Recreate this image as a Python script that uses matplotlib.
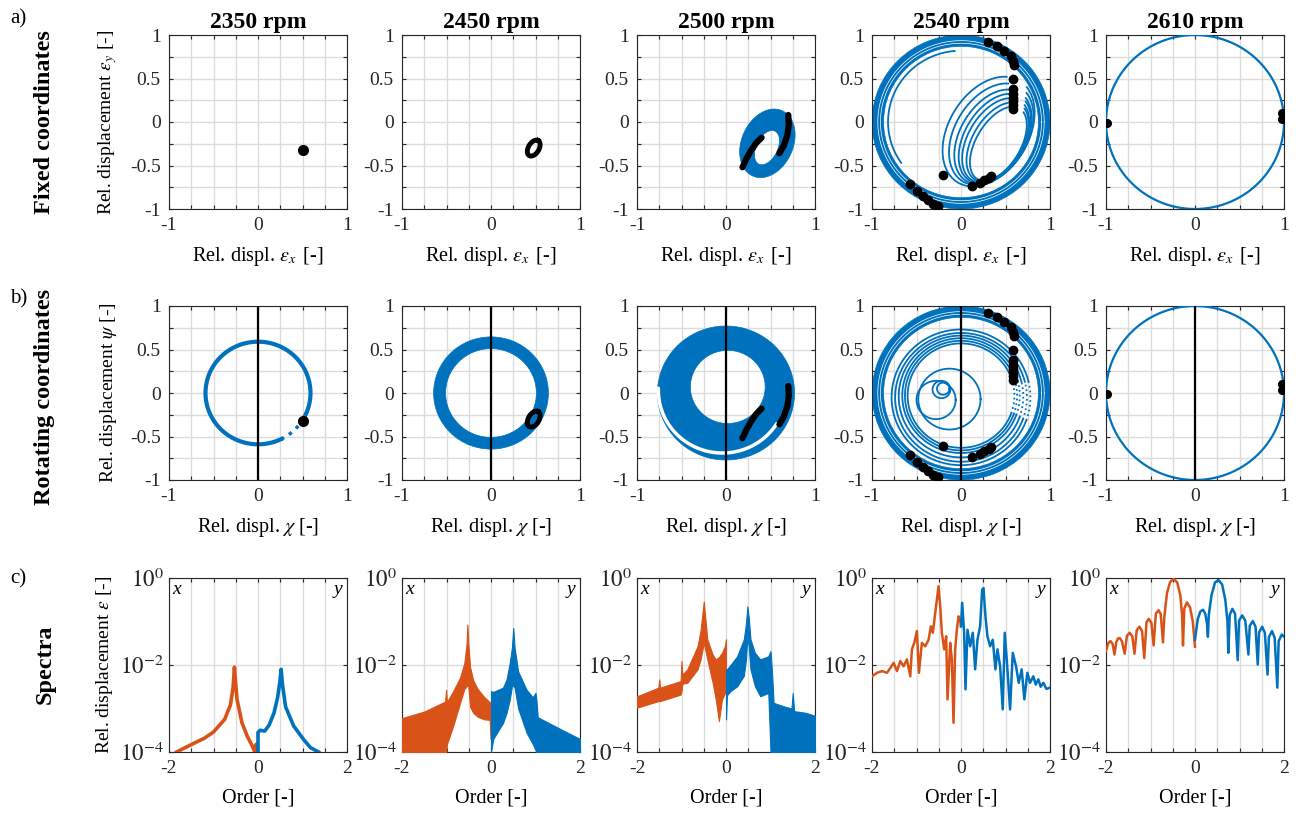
import numpy as np
import matplotlib
matplotlib.use("Agg")
import matplotlib.pyplot as plt
from matplotlib.patches import PathPatch, Wedge
from matplotlib.path import Path

plt.rcParams['font.family'] = ['Liberation Serif', 'DejaVu Serif']
plt.rcParams['mathtext.fontset'] = 'stix'
plt.rcParams['axes.edgecolor'] = '#262626'
plt.rcParams['xtick.color'] = '#262626'
plt.rcParams['ytick.color'] = '#262626'
plt.rcParams['xtick.direction'] = 'in'
plt.rcParams['ytick.direction'] = 'in'

BLUE = '#0072BD'
ORANGE = '#D95319'

rpm = [2350, 2450, 2500, 2540, 2610]

# ---- orbit data ----
# stroboscopic (once per revolution) black points
dots_2350 = [(0.50, -0.32)]
dots_2540 = [(0.30, 0.92), (0.41, 0.87), (0.48, 0.82), (0.56, 0.76), (0.58, 0.70),
             (0.60, 0.66), (0.58, 0.49), (0.58, 0.38), (0.58, 0.32), (0.58, 0.28),
             (0.58, 0.24), (0.58, 0.19), (0.58, 0.15), (-0.20, -0.61), (0.12, -0.73),
             (0.21, -0.70), (0.26, -0.67), (0.31, -0.64), (0.34, -0.62), (-0.57, -0.71),
             (-0.50, -0.79), (-0.43, -0.85), (-0.37, -0.90), (-0.31, -0.94), (-0.26, -0.96)]
dots_2610 = [(-0.99, -0.01), (0.98, 0.10), (0.98, 0.03)]

# black trails at 2450 (small ellipse) and 2500 (two arcs)
ring_2450 = (0.48, -0.30, 0.10, 0.06, 60)
arc1_2500 = [(0.185, -0.52), (0.23, -0.42), (0.28, -0.33), (0.34, -0.24), (0.40, -0.18)]
arc2_2500 = [(0.70, 0.08), (0.705, -0.03), (0.69, -0.15), (0.65, -0.27), (0.60, -0.36)]

# ellipses: (cx, cy, semi-axis a, semi-axis b, tilt deg)
fix_2500_outer = (0.465, -0.245, 0.41, 0.29, 67)
fix_2500_inner = (0.46, -0.295, 0.21, 0.12, 65)
band_2540 = (0.0, 0.0, 0.87, 1.0)          # cx, cy, r_in, r_out
# nested arcs: cx, cy, a, b (tilt 60 deg), drawn from the top point round to the right side
fix_2540_nest = [(0.42, -0.25, 0.47, 0.25), (0.41, -0.23, 0.50, 0.28),
                 (0.39, -0.21, 0.53, 0.31), (0.38, -0.19, 0.56, 0.34),
                 (0.36, -0.17, 0.59, 0.37), (0.34, -0.14, 0.63, 0.41),
                 (0.31, -0.11, 0.68, 0.45)]
fix_2540_arc = (0.0, 0.0, 0.82, 95, 215)   # cx, cy, r, angle from, angle to

rot_2350_r = 0.59
rot_2450_band = (0.0, 0.0, 0.51, 0.645)
rot_2500_outer = (0.0, 0.0, 0.77)
rot_2500_hole = (0.02, 0.07, 0.42)
rot_2500_gap = (-0.04, 0.03, 0.72, 178, 328)
rot_2540_rings = [(0.0, -0.03, 0.60), (0.0, -0.03, 0.63), (0.0, -0.03, 0.66),
                  (0.0, -0.04, 0.70), (0.0, -0.05, 0.74), (0.0, -0.05, 0.78)]
rot_2540_loops = [(-0.13, -0.07, 0.35), (-0.28, -0.08, 0.22), (-0.22, 0.04, 0.10),
                  (-0.20, 0.05, 0.07)]

# ---- spectra (order, log10 amplitude) ----
s2350_xo = [-1.83, -1.5, -1.2, -1.0, -0.75, -0.62, -0.56, -0.53, -0.50, -0.47, -0.36,
            -0.24, -0.13, -0.08, -0.04, -0.01]
s2350_xa = [-4.0, -3.83, -3.68, -3.54, -3.25, -2.92, -2.52, -2.05, -2.45, -2.80, -3.33,
            -3.64, -3.86, -3.98, -3.82, -4.0]
s2350_yo = [0.0, 0.0, 0.05, 0.15, 0.25, 0.36, 0.44, 0.49, 0.52, 0.55, 0.62, 0.80, 1.03,
            1.18, 1.36]
s2350_ya = [-4.0, -3.55, -3.50, -3.52, -3.38, -3.10, -2.75, -2.40, -2.10, -2.45, -2.96,
            -3.40, -3.72, -3.90, -4.0]

s2450_xo = [-2.0, -1.5, -1.03, -1.01, -0.99, -0.85, -0.70, -0.60, -0.55, -0.53, -0.51,
            -0.47, -0.40, -0.30, -0.15, -0.03, -0.01, 0.0]
s2450_xu = [-3.22, -3.07, -2.84, -2.57, -2.85, -2.60, -2.30, -1.96, -1.52, -1.07, -1.52,
            -2.05, -2.35, -2.55, -2.74, -2.85, -2.88, -2.88]
s2450_xl = [-4.0, -4.0, -4.0, -4.0, -3.82, -3.40, -2.89, -2.55, -2.49, -2.47, -2.49,
            -2.96, -3.10, -3.19, -3.25, -3.26, -3.70, -3.70]
s2450_yo = [0.0, 0.0, 0.05, 0.27, 0.35, 0.42, 0.47, 0.50, 0.53, 0.61, 0.80, 0.94, 1.00,
            1.02, 1.05, 1.5, 2.0]
s2450_yu = [-4.0, -2.60, -2.62, -2.52, -2.33, -1.96, -1.60, -1.15, -1.60, -2.15, -2.57,
            -2.74, -2.64, -2.80, -3.20, -3.44, -3.70]
s2450_yl = [-4.0, -4.0, -3.70, -3.33, -3.10, -2.80, -2.49, -2.47, -2.52, -3.00, -3.56,
            -3.82, -3.96, -4.0, -4.0, -4.0, -4.0]

s2500_xo = [-2.0, -1.52, -1.50, -1.48, -1.02, -1.00, -0.98, -0.87, -0.64, -0.57, -0.50,
            -0.42, -0.30, -0.23, -0.16, -0.09, -0.02, 0.0]
s2500_xu = [-2.72, -2.52, -2.33, -2.52, -2.37, -1.91, -2.22, -2.10, -1.57, -1.19, -0.54,
            -1.41, -1.76, -1.87, -1.82, -1.72, -1.55, -1.41]
s2500_xl = [-2.98, -2.83, -2.83, -2.83, -2.68, -2.60, -2.43, -2.41, -2.10, -1.87, -1.49,
            -1.87, -2.41, -2.79, -3.29, -2.79, -2.64, -2.64]
s2500_yo = [0.0, 0.02, 0.10, 0.25, 0.40, 0.45, 0.48, 0.51, 0.55, 0.65, 0.77, 0.95, 1.00,
            1.03, 1.07, 1.30, 1.47, 1.50, 1.53, 1.80, 2.0]
s2500_yu = [-2.10, -2.10, -2.00, -1.80, -1.41, -1.03, -0.65, -0.90, -1.41, -1.72, -1.87,
            -1.80, -1.68, -2.10, -2.87, -2.95, -3.00, -2.64, -3.06, -3.10, -3.17]
s2500_yl = [-3.25, -2.70, -2.60, -2.49, -2.25, -1.87, -1.34, -1.57, -2.10, -2.49, -2.72,
            -2.64, -4.0, -4.0, -4.0, -4.0, -4.0, -4.0, -4.0, -4.0, -4.0]

s2540_xo = [-2.0, -1.888, -1.776, -1.664, -1.589, -1.514, -1.439, -1.364, -1.290, -1.215,
            -1.140, -1.103, -1.050, -0.991, -0.946, -0.879, -0.804, -0.729, -0.677,
            -0.632, -0.579, -0.542, -0.505, -0.467, -0.430, -0.378, -0.333, -0.303,
            -0.243, -0.206, -0.168, -0.131, -0.093, -0.056, -0.019, 0.0]
s2540_xa = [-2.26, -2.18, -2.14, -2.18, -2.07, -1.95, -2.14, -1.91, -2.03, -1.87, -2.26,
            -1.64, -1.49, -1.22, -2.18, -1.49, -1.57, -1.42, -1.11, -1.26, -0.80, -0.50,
            -0.19, -0.65, -1.26, -1.64, -1.34, -2.79, -1.49, -1.87, -3.33, -1.64, -1.19,
            -0.88, -0.96, -1.11]
s2540_yo = [0.0, 0.026, 0.071, 0.101, 0.146, 0.206, 0.265, 0.318, 0.370, 0.430, 0.475,
            0.505, 0.549, 0.594, 0.654, 0.714, 0.774, 0.819, 0.879, 0.938, 0.983, 1.028,
            1.103, 1.163, 1.237, 1.297, 1.364, 1.424, 1.491, 1.551, 1.626, 1.68, 1.738,
            1.79, 1.85, 1.92, 2.0]
s2540_ya = [-1.11, -0.57, -1.26, -2.56, -1.19, -1.57, -1.26, -2.10, -1.42, -1.11, -0.27,
            -0.23, -0.88, -1.34, -1.57, -1.42, -2.10, -1.64, -2.03, -3.02, -1.26, -1.87,
            -3.02, -1.72, -2.03, -2.41, -2.10, -2.79, -2.18, -2.41, -2.26, -2.45, -2.33,
            -2.50, -2.41, -2.55, -2.52]

s2610_xo = [-2.00, -1.95, -1.90, -1.85, -1.81, -1.77, -1.73, -1.69, -1.64, -1.58, -1.53,
            -1.47, -1.41, -1.36, -1.31, -1.25, -1.19, -1.14, -1.09, -1.04, -0.98, -0.93,
            -0.88, -0.82, -0.77, -0.72, -0.69, -0.63, -0.56, -0.48, -0.40, -0.33, -0.29,
            -0.27, -0.24, -0.18, -0.11, -0.05, 0.0]
s2610_xa = [-1.68, -1.50, -1.45, -1.52, -1.76, -1.48, -1.39, -1.38, -1.46, -1.74, -1.33,
            -1.26, -1.34, -1.74, -1.20, -1.12, -1.22, -1.84, -1.02, -0.94, -1.03, -1.55,
            -0.82, -0.74, -0.83, -1.48, -0.90, -0.35, -0.09, -0.02, -0.10, -0.40, -0.85,
            -1.55, -0.70, -0.56, -0.68, -1.00, -1.58]
s2610_yo = [0.0, 0.06, 0.12, 0.18, 0.23, 0.27, 0.29, 0.31, 0.37, 0.45, 0.53, 0.61, 0.68,
            0.73, 0.75, 0.78, 0.84, 0.90, 0.96, 0.99, 1.06, 1.13, 1.20, 1.23, 1.30, 1.36,
            1.41, 1.44, 1.51, 1.57, 1.63, 1.66, 1.73, 1.79, 1.85, 1.88, 1.95, 2.0]
s2610_ya = [-1.42, -0.95, -0.77, -0.73, -0.82, -1.05, -1.35, -0.85, -0.40, -0.10, -0.05,
            -0.15, -0.50, -1.00, -1.72, -0.85, -0.71, -0.82, -1.89, -0.98, -0.86, -0.98,
            -1.76, -1.10, -0.99, -1.12, -1.99, -1.25, -1.12, -1.26, -2.22, -1.36, -1.22,
            -1.37, -2.52, -1.45, -1.30, -1.35]

# ---- layout (pixels of a 1296x816 figure) ----
W, H = 1296, 816
col_left = [169, 402, 637, 872, 1106]
row_top = [35, 306, 578]
ax_w, ax_h = 178, 174


def ell(cx, cy, a, b, tilt=0.0, t0=0.0, t1=360.0):
    t = np.radians(np.linspace(t0, t1, 361))
    th = np.radians(tilt)
    x = cx + a * np.cos(t) * np.cos(th) - b * np.sin(t) * np.sin(th)
    y = cy + a * np.cos(t) * np.sin(th) + b * np.sin(t) * np.cos(th)
    return x, y


def annulus(ax, outer, inner, color=BLUE, z=2):
    xo, yo = ell(*outer)
    xi, yi = ell(*inner)
    p = Path.make_compound_path(Path(np.column_stack([xo, yo]), closed=True),
                                Path(np.column_stack([xi[::-1], yi[::-1]]), closed=True))
    ax.add_patch(PathPatch(p, facecolor=color, edgecolor=color, lw=0.5, zorder=z))


def band(ax, cx, cy, r_in, r_out):
    ax.add_patch(Wedge((cx, cy), r_out, 0, 360, width=r_out - r_in,
                       facecolor=BLUE, edgecolor=BLUE, lw=0.5, zorder=2))
    # thin gaps between the loops of the band
    for rr in [r_in + 0.035, r_in + 0.065]:
        x, y = ell(cx, cy, rr, rr)
        ax.plot(x, y, color='white', lw=0.5, zorder=3)


def dots(ax, pts, ms=6):
    ax.plot([p[0] for p in pts], [p[1] for p in pts], 'o', color='k', ms=ms,
            mec='k', zorder=6)


def trail(ax, pts):
    ax.plot([p[0] for p in pts], [p[1] for p in pts], '-', color='k', lw=4.5,
            solid_capstyle='round', zorder=6)


def orbit_axes(ax):
    ax.set_xlim(-1, 1)
    ax.set_ylim(-1, 1)
    ax.set_xticks(np.arange(-1, 1.01, 0.25))
    ax.set_xticklabels(['-1', '', '', '', '0', '', '', '', '1'])
    ax.set_yticks(np.arange(-1, 1.01, 0.25))
    ax.set_yticklabels(['-1', '', '-0.5', '', '0', '', '0.5', '', '1'])
    ax.grid(True, color='#dcdcdc', lw=1.0)
    ax.set_axisbelow(True)
    ax.tick_params(labelsize=14, length=3, pad=6, top=True, right=True)


fig = plt.figure(figsize=(W / 100, H / 100), dpi=100)
axes = []
for r in range(3):
    row = []
    for c in range(5):
        a = fig.add_axes([col_left[c] / W, 1 - (row_top[r] + ax_h) / H, ax_w / W, ax_h / H])
        row.append(a)
    axes.append(row)

# ---- row a: fixed coordinates ----
for c in range(5):
    ax = axes[0][c]
    orbit_axes(ax)
    ax.set_title(f'{rpm[c]} rpm', fontsize=17, fontweight='bold', pad=5)
    ax.set_xlabel(r'Rel. displ. $\varepsilon_{x}\,$ [-]', fontsize=14.5, labelpad=8)
axes[0][0].set_ylabel(r'Rel. displacement $\varepsilon_y$ [-]', fontsize=14, labelpad=8)

dots(axes[0][0], dots_2350, ms=7)
x, y = ell(*ring_2450)
axes[0][1].plot(x, y, color='k', lw=3.5, zorder=6)
annulus(axes[0][2], fix_2500_outer, fix_2500_inner)
trail(axes[0][2], arc1_2500)
trail(axes[0][2], arc2_2500)
ax = axes[0][3]
band(ax, *band_2540)
cx, cy, rr, t0, t1 = fix_2540_arc
x, y = ell(cx, cy, rr, rr, 0, t0, t1)
ax.plot(x, y, color=BLUE, lw=1.3, zorder=3)
for e in fix_2540_nest:
    x, y = ell(*e, 60, 18, 345)
    ax.plot(x, y, color=BLUE, lw=1.3, zorder=3)
dots(ax, dots_2540)
x, y = ell(0, 0, 1.0, 1.0)
axes[0][4].plot(x, y, color=BLUE, lw=1.6, zorder=3)
dots(axes[0][4], dots_2610, ms=5.5)

# ---- row b: rotating coordinates ----
for c in range(5):
    ax = axes[1][c]
    orbit_axes(ax)
    ax.set_xlabel(r'Rel. displ. $\chi$ [-]', fontsize=14.5, labelpad=8)
    ax.axvline(0, color='k', lw=1.6, zorder=4)
axes[1][0].set_ylabel(r'Rel. displacement $\psi$ [-]', fontsize=14, labelpad=8)

ax = axes[1][0]
x, y = ell(0, 0, rot_2350_r, rot_2350_r, 0, -32, 296)
ax.plot(x, y, color=BLUE, lw=3, zorder=3)
x, y = ell(0, 0, rot_2350_r, rot_2350_r, 0, 296, 328)
ax.plot(x, y, color=BLUE, lw=2.5, ls=':', zorder=3)
dots(ax, dots_2350, ms=7)

ax = axes[1][1]
ax.add_patch(Wedge(rot_2450_band[:2], rot_2450_band[3], 0, 360,
                   width=rot_2450_band[3] - rot_2450_band[2],
                   facecolor=BLUE, edgecolor=BLUE, lw=0.5, zorder=2))
x, y = ell(*ring_2450)
ax.plot(x, y, color='k', lw=3.5, zorder=6)

ax = axes[1][2]
cx, cy, ro = rot_2500_outer
hx, hy, rh = rot_2500_hole
annulus(ax, (cx, cy, ro, ro, 0), (hx, hy, rh, rh, 0))
gx, gy, gr, g0, g1 = rot_2500_gap
x, y = ell(gx, gy, gr, gr, 0, g0, g1)
ax.plot(x, y, color='white', lw=2.5, zorder=3, solid_capstyle='round')
trail(ax, arc1_2500)
trail(ax, arc2_2500)

ax = axes[1][3]
band(ax, *band_2540)
for cx, cy, rr in rot_2540_rings:
    x, y = ell(cx, cy, rr, rr, 0, 14, 340)
    ax.plot(x, y, color=BLUE, lw=1.3, zorder=3)
    x, y = ell(cx, cy, rr, rr, 0, -20, 14)
    ax.plot(x, y, color=BLUE, lw=1.3, ls=':', zorder=3)
for cx, cy, rr in rot_2540_loops:
    x, y = ell(cx, cy, rr, rr)
    ax.plot(x, y, color=BLUE, lw=1.3, zorder=3)
dots(ax, dots_2540)

ax = axes[1][4]
x, y = ell(0, 0, 1.0, 1.0)
ax.plot(x, y, color=BLUE, lw=1.6, zorder=3)
dots(ax, dots_2610, ms=5.5)

# ---- row c: spectra ----
p10 = lambda v: np.power(10.0, v)
for c in range(5):
    ax = axes[2][c]
    ax.set_yscale('log')
    ax.set_xlim(-2, 2)
    ax.set_ylim(1e-4, 1)
    ax.set_xticks(np.arange(-2, 2.01, 0.5))
    ax.set_xticklabels(['-2', '', '', '', '0', '', '', '', '2'])
    ax.set_yticks([1e-4, 1e-2, 1])
    ax.set_yticklabels([r'$10^{-4}$', r'$10^{-2}$', r'$10^{0}$'])
    ax.minorticks_off()
    ax.grid(True, color='#dcdcdc', lw=1.0)
    ax.set_axisbelow(True)
    ax.tick_params(labelsize=14, length=3, pad=6, top=True, right=True)
    ax.tick_params(axis='y', labelsize=16.5, pad=4)
    ax.set_xlabel('Order [-]', fontsize=14.5, labelpad=8)
    ax.text(0.02, 0.985, 'x', transform=ax.transAxes, ha='left', va='top',
            fontsize=14, style='italic')
    ax.text(0.975, 0.985, 'y', transform=ax.transAxes, ha='right', va='top',
            fontsize=14, style='italic')
axes[2][0].set_ylabel(r'Rel. displacement $\varepsilon$ [-]', fontsize=14, labelpad=3)

ax = axes[2][0]
ax.plot(s2350_xo, p10(s2350_xa), color=ORANGE, lw=2.6, zorder=3)
ax.plot(s2350_yo, p10(s2350_ya), color=BLUE, lw=2.6, zorder=3)
ax = axes[2][1]
ax.fill_between(s2450_xo, p10(s2450_xl), p10(s2450_xu), color=ORANGE, lw=0.8, zorder=3)
ax.fill_between(s2450_yo, p10(s2450_yl), p10(s2450_yu), color=BLUE, lw=0.8, zorder=3)
ax = axes[2][2]
ax.fill_between(s2500_xo, p10(s2500_xl), p10(s2500_xu), color=ORANGE, lw=0.8, zorder=3)
ax.fill_between(s2500_yo, p10(s2500_yl), p10(s2500_yu), color=BLUE, lw=0.8, zorder=3)
ax = axes[2][3]
ax.plot(s2540_xo, p10(s2540_xa), color=ORANGE, lw=1.8, zorder=3)
ax.plot(s2540_yo, p10(s2540_ya), color=BLUE, lw=1.8, zorder=3)
ax = axes[2][4]
ax.plot(s2610_xo, p10(s2610_xa), color=ORANGE, lw=1.8, zorder=3)
ax.plot(s2610_yo, p10(s2610_ya), color=BLUE, lw=1.8, zorder=3)

# ---- row labels ----
fig.text(45 / W, 1 - 122 / H, 'Fixed coordinates', rotation=90, ha='center', va='center',
         fontsize=17.5, fontweight='bold')
fig.text(45 / W, 1 - 397 / H, 'Rotating coordinates', rotation=90, ha='center',
         va='center', fontsize=17.5, fontweight='bold')
fig.text(45 / W, 1 - 664 / H, 'Spectra', rotation=90, ha='center', va='center',
         fontsize=17.5, fontweight='bold')
for lab, ty in [('a)', 19), ('b)', 299), ('c)', 579)]:
    fig.text(10 / W, 1 - ty / H, lab, ha='left', va='center', fontsize=15)

fig.savefig('out.png', dpi=100)
